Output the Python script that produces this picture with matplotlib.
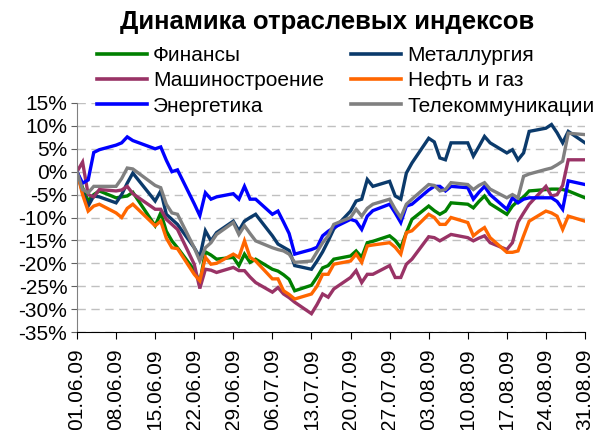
import matplotlib
matplotlib.use("Agg")
import matplotlib.pyplot as plt
import matplotlib.dates as mdates
from matplotlib.lines import Line2D
from matplotlib.ticker import FuncFormatter, MultipleLocator
import pandas as pd

plt.rcParams['font.family'] = ['Liberation Sans', 'DejaVu Sans']
plt.rcParams['axes.unicode_minus'] = False

# trading days Jun-Aug 2009 (12.06 is a holiday)
dates = pd.bdate_range("2009-06-01", "2009-08-31")
dates = dates[dates != pd.Timestamp("2009-06-12")]

finance = [0, -3.5, -6.4, -5, -4.2, -5.7, -5.5, -5.3, -4.5, -11.8, -9, -13, -15.1, -16.6, -21.5, -24.2, -17.5, -18.2, -19.1, -18.7, -20.5,
           -18, -19.8, -19.1, -21.3, -21.7, -22.5, -23.5, -26, -24.8, -23, -21, -20.5, -19.1, -18.4, -17.3, -18.7, -15.5, -15.2, -14, -15, -16.6, -13.3, -10.4,
           -7.5, -8.5, -9.3, -8.6, -6.8, -7.1, -7.9, -6.5, -5.3, -7, -9.3, -7.5, -6.4, -5.5, -4.2, -3.9, -3.8, -3.8, -3.9, -4.2, -5.7]
metals = [0, -4.5, -7.5, -5.3, -5.5, -6.8, -5, -2.5, -0.3, -6.4, -4.2, -9.3, -10.4, -11.5, -16.6, -18.7, -12.9, -15.1, -13.3, -10.8, -12.9,
          -10.8, -10, -9.3, -14, -15.8, -16.5, -17.2, -20.5, -21.3, -19.5, -17.5, -15.1, -12.5, -8.6, -6.4, -6, -1.7, -3.2, -2.1, -5.3, -6, -0.3, 1.9,
          7.3, 6.5, 3, 2.6, 6.3, 6.3, 3.4, 5.5, 7.7, 6.3, 4.1, 4.8, 2.6, 4.1, 8.8, 9.5, 10.3, 8.5, 6.3, 8.8, 6.3]
machinery = [0, 2.1, -5, -5.5, -3.9, -4.2, -4, -3.2, -4.8, -8.2, -8.2, -10.4, -11.5, -12.6, -20.2, -25.5, -21.3, -21.5, -22, -20.9, -21.6,
             -21.6, -23, -24.2, -26.3, -25.3, -26.7, -27.5, -28.5, -31, -29, -26.7, -27.4, -25.6, -23.1, -21.6, -24.2, -22.4, -22.4, -20.5, -23.1, -23.1, -20.2, -19.1,
             -14.2, -14.4, -15.1, -14.4, -13.7, -14.4, -15.1, -14.5, -14, -15.5, -17, -15.5, -11, -9, -7.1, -3.2, -5.3, -5, -3, 2.6, 2.6]
oilgas = [0, -5, -8.6, -7.5, -7.1, -9, -10, -8, -7.1, -11.8, -10.8, -14.5, -16.6, -16.8, -22.4, -23.8, -18.7, -20.2, -20, -18, -18.7,
          -15.1, -18.7, -19.5, -23.4, -23.4, -26, -26.8, -27.8, -26.7, -25, -22.4, -22.4, -20.2, -19.5, -18, -19.8, -16.2, -16, -15.5, -16.5, -18, -13.3, -12.9,
          -9.3, -10, -11.5, -11.5, -10, -11.1, -14, -13, -12.2, -14.4, -17.6, -17.6, -17.3, -14, -10.8, -8.6, -9, -9.7, -12.6, -9.7, -10.8]
energy = [0, -2.5, -1.8, 4.2, 4.8, 5.8, 6.3, 7.6, 6.8, 5.0, 5.4, 2.5, 0, 0.4, -7, -9.6, -4.6, -6, -5.5, -4.8, -6,
          -3.2, -6, -6, -9.3, -8.6, -11, -13.5, -18, -17, -16.5, -14, -13, -12.2, -10.4, -10.8, -12.6, -9.7, -8.5, -7.1, -9, -11.1, -7.5, -7.1,
          -4, -3.2, -3.2, -4.2, -3.2, -3.5, -6, -4.5, -3.2, -5, -8.2, -5.7, -6.8, -6, -5.7, -5.7, -5.7, -6.5, -8.2, -2, -2.8]
telecom = [0, -3.9, -4.6, -3.2, -3.2, -3.2, -1.5, 0.8, 0.6, -3, -3.5, -7.1, -9, -9.3, -16.6, -19.5, -16.6, -15.5, -13.7, -11.1, -13.7,
           -11.8, -13.5, -15.1, -16.6, -17, -17.3, -18, -19.8, -19.5, -17.5, -15.5, -14, -11.5, -10, -8.2, -9.7, -8, -7.1, -6, -8.2, -10, -7.1, -6,
           -2.8, -3, -4.2, -3.9, -2.4, -2.8, -3.9, -3, -2.4, -3.8, -5.7, -5, -5.7, -1, -0.5, 0.5, 0.8, 1.5, 2.3, 8.4, 8.1]

series = [
    ("Финансы", finance, "#008000"),
    ("Металлургия", metals, "#0b3a6b"),
    ("Машиностроение", machinery, "#993366"),
    ("Нефть и газ", oilgas, "#ff6600"),
    ("Энергетика", energy, "#0000ff"),
    ("Телекоммуникации", telecom, "#808080"),
]

fig = plt.figure(figsize=(5.98, 4.3), dpi=100)
ax = fig.add_axes([77 / 598, 1 - 332 / 430, (585 - 77) / 598, (332 - 103) / 430])

handles = {}
for name, vals, col in series:
    ax.plot(dates, vals, color=col, lw=2.4, solid_joinstyle='miter')
    handles[name] = Line2D([], [], color=col, lw=2.6)

ax.set_ylim(-35, 15)
ax.yaxis.set_major_locator(MultipleLocator(5))
ax.yaxis.set_major_formatter(FuncFormatter(lambda v, p: "%d%%" % round(v)))
ax.set_xlim(pd.Timestamp("2009-06-01"), pd.Timestamp("2009-08-31"))
ax.set_xticks(pd.date_range("2009-06-01", "2009-08-31", freq="7D"))
ax.xaxis.set_major_formatter(mdates.DateFormatter("%d.%m.%y"))
ax.tick_params(axis='x', labelrotation=90, labelsize=15, length=5, pad=7)
ax.tick_params(axis='y', labelsize=15, length=4, pad=3, color='#606060')

ax.yaxis.grid(True, color='#c0c0c0', linestyle=(0, (6, 4)), lw=1)
ax.set_axisbelow(True)
for s in ['top', 'right']:
    ax.spines[s].set_visible(False)
ax.spines['left'].set_color('#808080')
ax.spines['bottom'].set_color('black')

fig.text(327 / 598, 1 - 22 / 430, "Динамика отраслевых индексов", ha='center', va='center',
         fontsize=18.5, fontweight='bold')

order = ["Финансы", "Машиностроение", "Энергетика", "Металлургия", "Нефть и газ", "Телекоммуникации"]
fig.legend([handles[n] for n in order], order, ncol=2, loc='upper left',
           bbox_to_anchor=(97 / 598, 1 - 46 / 430), fontsize=15, frameon=True,
           facecolor='white', edgecolor='none', framealpha=1, fancybox=False,
           borderpad=0, borderaxespad=0, handlelength=2.4, handletextpad=0.3,
           columnspacing=1.3, labelspacing=0.3)

fig.savefig("out.png", dpi=100)
